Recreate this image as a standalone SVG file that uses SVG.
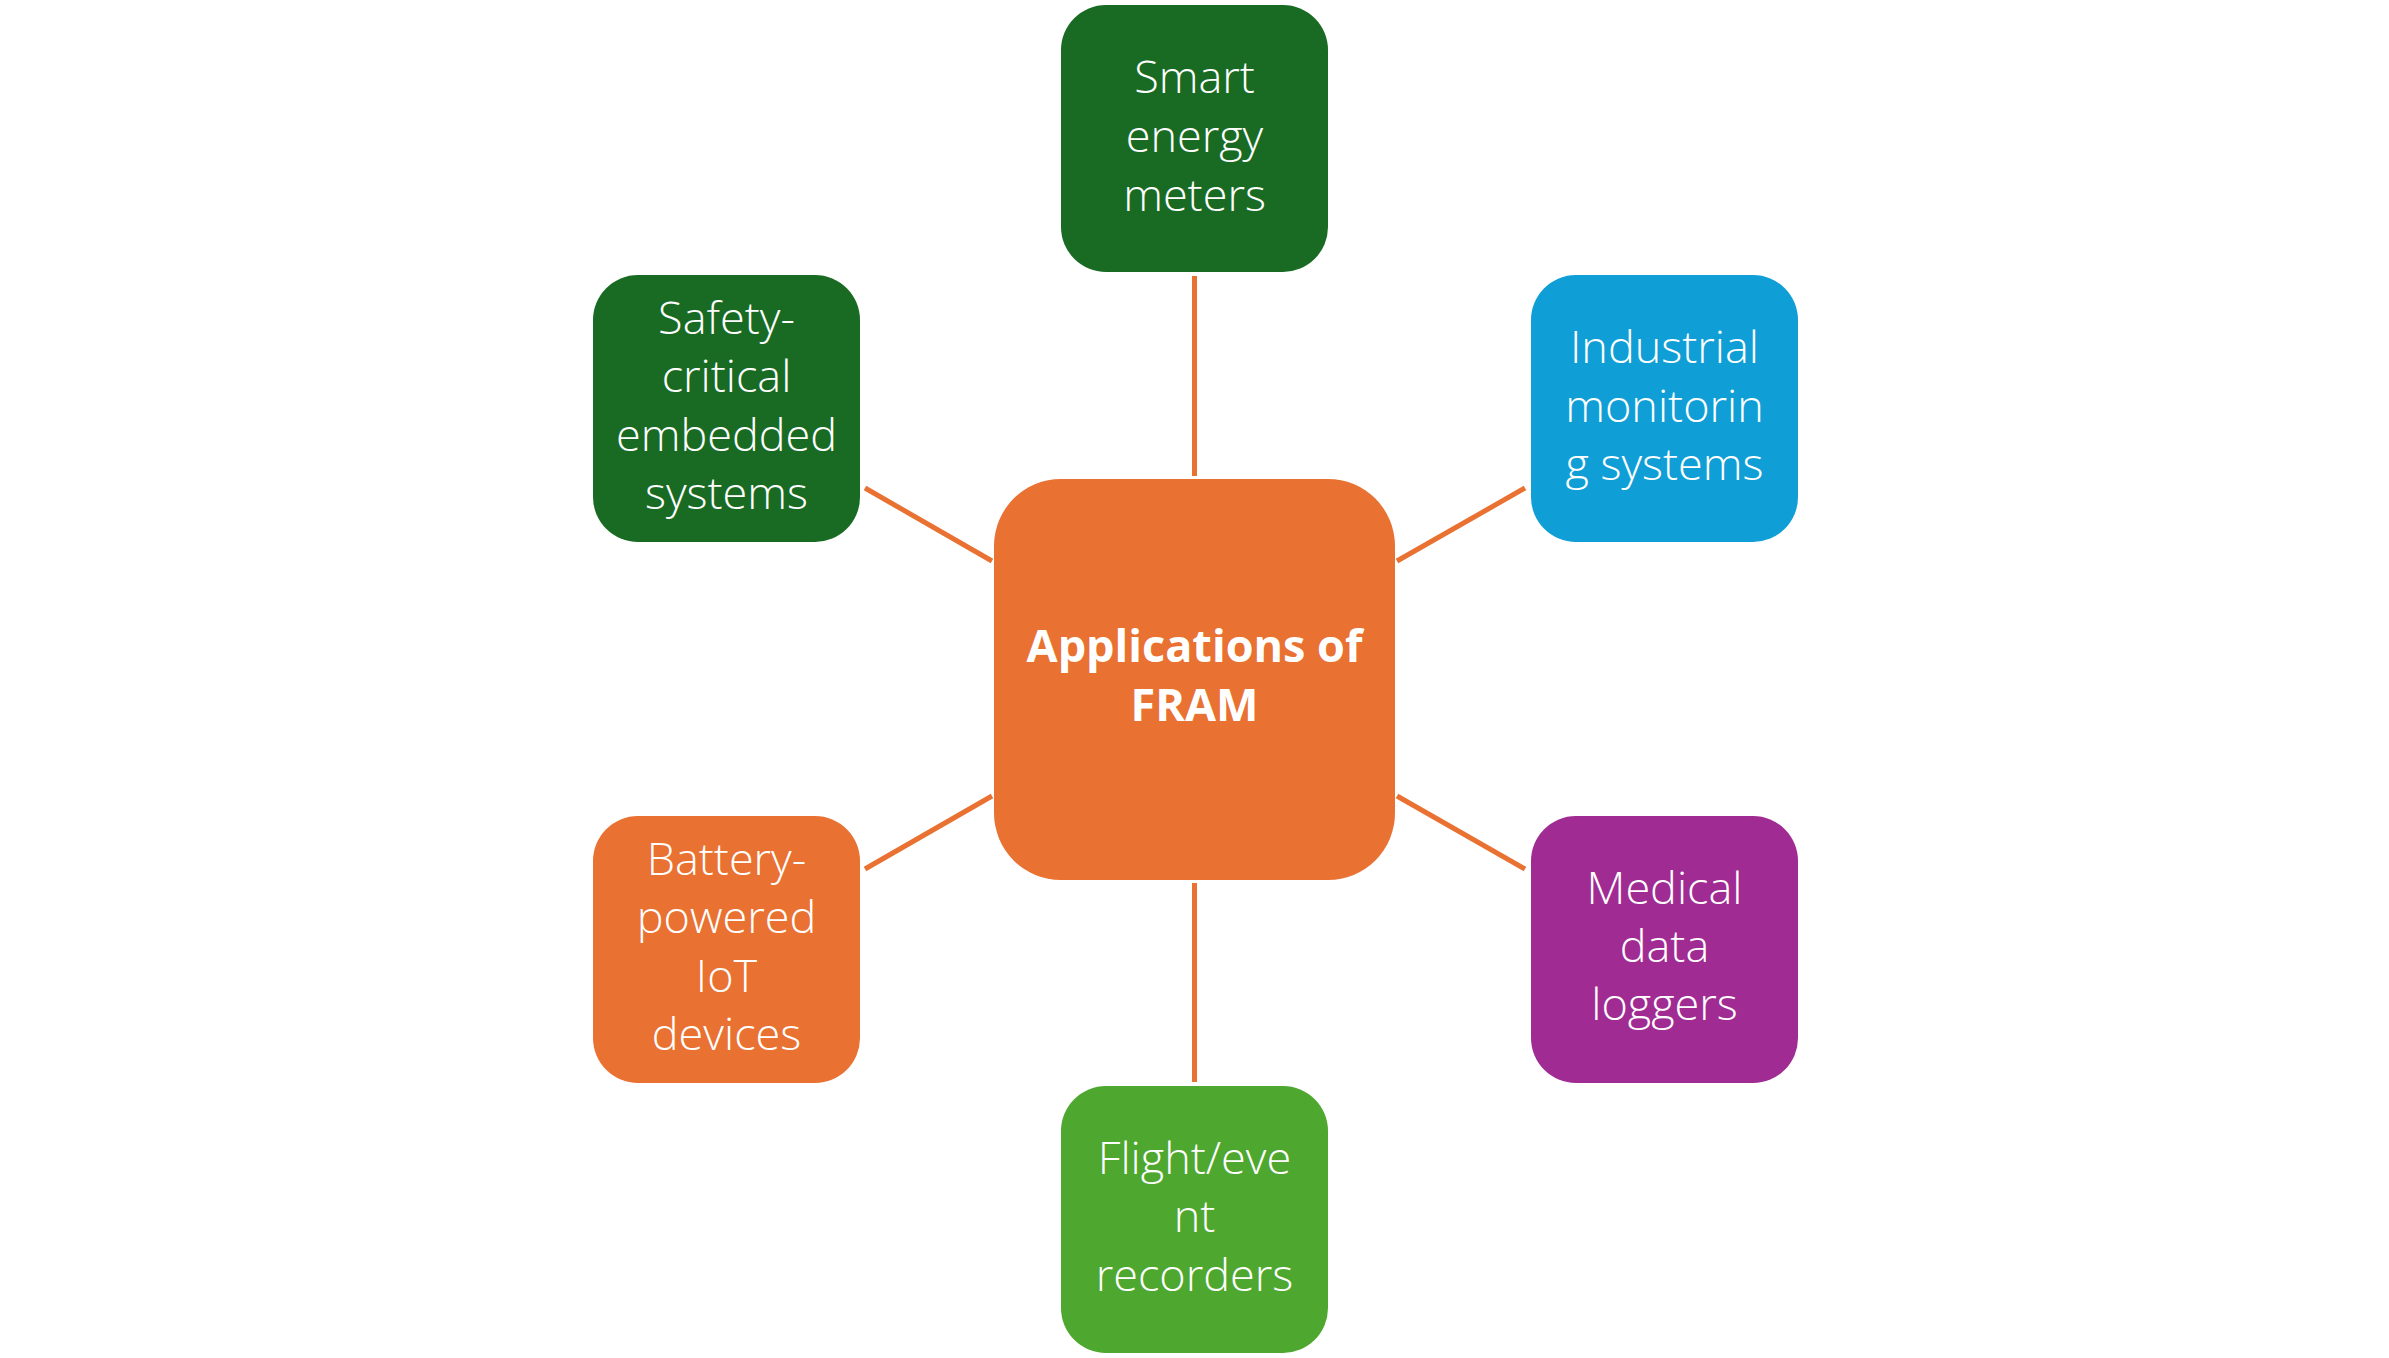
<svg xmlns="http://www.w3.org/2000/svg" width="2389" height="1358" viewBox="0 0 2389 1358">
<style>
.lbl{font-family:"Open Sans","Noto Sans","Liberation Sans",sans-serif;font-weight:300;font-size:45px;fill:#ffffff;text-anchor:middle}
.ctr{font-family:"Open Sans","Noto Sans","Liberation Sans",sans-serif;font-weight:700;font-size:45px;fill:#ffffff;text-anchor:middle}
.conn line{stroke:#E97132;stroke-width:5}
</style>
<rect width="2389" height="1358" fill="#ffffff"/>
<g id="connectors" class="conn">
<line x1="1194.5" y1="276" x2="1194.5" y2="476"/>
<line x1="1194.5" y1="883" x2="1194.5" y2="1082"/>
<line x1="865" y1="488" x2="992" y2="561"/>
<line x1="1525" y1="488" x2="1397" y2="561"/>
<line x1="865" y1="869" x2="992" y2="796"/>
<line x1="1525" y1="869" x2="1397" y2="796"/>
</g>
<g id="center">
<rect x="994" y="479" width="401" height="401" rx="67" fill="#E97132"/>
<text class="ctr" x="1194.5" y="662">Applications of</text>
<text class="ctr" x="1194.5" y="721">FRAM</text>
</g>
<g id="smart-energy">
<rect x="1061" y="5" width="267" height="267" rx="45" fill="#196B24"/>
<text class="lbl" x="1194.5" y="93">Smart</text>
<text class="lbl" x="1194.5" y="152">energy</text>
<text class="lbl" x="1194.5" y="211">meters</text>
</g>
<g id="safety-critical">
<rect x="593" y="275" width="267" height="267" rx="45" fill="#196B24"/>
<text class="lbl" x="726.5" y="334">Safety-</text>
<text class="lbl" x="726.5" y="392">critical</text>
<text class="lbl" x="726.5" y="451">embedded</text>
<text class="lbl" x="726.5" y="509">systems</text>
</g>
<g id="industrial">
<rect x="1531" y="275" width="267" height="267" rx="45" fill="#0F9ED5"/>
<text class="lbl" x="1664.5" y="363">Industrial</text>
<text class="lbl" x="1664.5" y="422">monitorin</text>
<text class="lbl" x="1664.5" y="480">g systems</text>
</g>
<g id="battery-iot">
<rect x="593" y="816" width="267" height="267" rx="45" fill="#E97132"/>
<text class="lbl" x="726.5" y="875">Battery-</text>
<text class="lbl" x="726.5" y="933">powered</text>
<text class="lbl" x="726.5" y="992">IoT</text>
<text class="lbl" x="726.5" y="1050">devices</text>
</g>
<g id="medical">
<rect x="1531" y="816" width="267" height="267" rx="45" fill="#A02B93"/>
<text class="lbl" x="1664.5" y="904">Medical</text>
<text class="lbl" x="1664.5" y="962">data</text>
<text class="lbl" x="1664.5" y="1020">loggers</text>
</g>
<g id="flight-recorders">
<rect x="1061" y="1086" width="267" height="267" rx="45" fill="#4EA72E"/>
<text class="lbl" x="1194.5" y="1174">Flight/eve</text>
<text class="lbl" x="1194.5" y="1232">nt</text>
<text class="lbl" x="1194.5" y="1291">recorders</text>
</g>
</svg>
